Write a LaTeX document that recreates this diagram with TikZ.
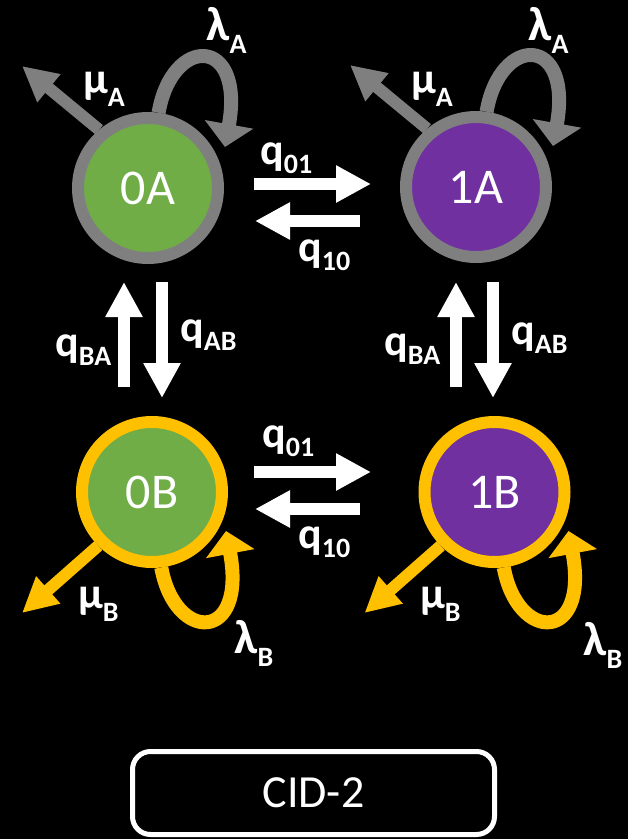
\documentclass[tikz,border=0pt]{standalone}
\usepackage{fontspec}
\setmainfont{Carlito}
\usetikzlibrary{arrows.meta}
\definecolor{cgreen}{HTML}{70AD47}
\definecolor{cpurple}{HTML}{7030A0}
\definecolor{cgray}{HTML}{7F7F7F}
\definecolor{cyellow}{HTML}{FFC000}
\newcommand{\lsub}[2][13]{\raisebox{-#1pt}{\fontsize{28}{28}\selectfont #2}}
\newcommand{\biglam}{{\fontsize{48}{48}\selectfont λ}}
\begin{document}
\begin{tikzpicture}[x=1pt,y=-1pt,
  state/.style={circle, minimum size=140pt, inner sep=0pt, line width=12pt, text=white, font=\fontsize{50}{50}\selectfont},
  stA/.style={state, draw=cgray},
  stB/.style={state, draw=cyellow},
  blockarrow/.style={draw=white, line width=12pt, -{Triangle[width=35pt,length=35pt]}},
  muA/.style={draw=cgray, line width=12pt, -{Triangle[width=34pt,length=35pt]}},
  muB/.style={draw=cyellow, line width=12pt, -{Triangle[width=34pt,length=35pt]}},
  loopA/.style={draw=cgray, line width=14pt, -{Triangle[width=48pt,length=23pt]}},
  loopB/.style={draw=cyellow, line width=14pt, -{Triangle[width=48pt,length=23pt]}},
  lab/.style={text=white, font=\bfseries\fontsize{44}{44}\selectfont, inner sep=0pt, anchor=base west},
  cidbox/.style={draw=white, line width=5pt, rounded corners=18pt, minimum width=362pt, minimum height=83pt, inner sep=0pt, text=white, font=\fontsize{46}{46}\selectfont}
]
\fill[black] (0,0) rectangle (628,839);
\useasboundingbox (0,0) rectangle (628,839);

% states
\node[stA, fill=cgreen]  (0A) at (148,188) {0A};
\node[stA, fill=cpurple] (1A) at (476,187) {1A};
\node[stB, fill=cgreen]  (0B) at (152,492) {0B};
\node[stB, fill=cpurple] (1B) at (494.5,492) {1B};

% free ends of the block arrows
\coordinate (r1s) at (254,184);  \coordinate (r1e) at (371,184);
\coordinate (l1s) at (360,221);  \coordinate (l1e) at (255,221);
\coordinate (r2s) at (254,472);  \coordinate (r2e) at (371,472);
\coordinate (l2s) at (360,509);  \coordinate (l2e) at (255,509);
\coordinate (u1s) at (124,387);  \coordinate (u1e) at (124,282);
\coordinate (d1s) at (162,282);  \coordinate (d1e) at (162,398);
\coordinate (u2s) at (456,387);  \coordinate (u2e) at (456,282);
\coordinate (d2s) at (493,282);  \coordinate (d2e) at (493,398);

\draw[blockarrow] (r1s) -- (r1e);
\draw[blockarrow] (l1s) -- (l1e);
\draw[blockarrow] (r2s) -- (r2e);
\draw[blockarrow] (l2s) -- (l2e);
\draw[blockarrow] (u1s) -- (u1e);
\draw[blockarrow] (d1s) -- (d1e);
\draw[blockarrow] (u2s) -- (u2e);
\draw[blockarrow] (d2s) -- (d2e);

% death arrows
\coordinate (m0A) at ([shift={(-126,-122)}]0A.center);
\coordinate (m1A) at ([shift={(-126,-122)}]1A.center);
\coordinate (m0B) at ([shift={(-130,121)}]0B.center);
\coordinate (m1B) at ([shift={(-130,121)}]1B.center);
\draw[muA] (0A.130) -- (m0A);
\draw[muA] (1A.130) -- (m1A);
\draw[muB] (0B.225) -- (m0B);
\draw[muB] (1B.225) -- (m1B);

% birth loops
\draw[loopA] (0A.82) .. controls ([shift={(24,-153)}]0A.center) and ([shift={(97,-153)}]0A.center) .. ([shift={(77,-41)}]0A.center);
\draw[loopA] (1A.82) .. controls ([shift={(24,-153)}]1A.center) and ([shift={(97,-153)}]1A.center) .. ([shift={(77,-41)}]1A.center);
\draw[loopB] (0B.-83) .. controls ([shift={(23,151)}]0B.center) and ([shift={(95,151)}]0B.center) .. ([shift={(74,39)}]0B.center);
\draw[loopB] (1B.-83) .. controls ([shift={(23,151)}]1B.center) and ([shift={(95,151)}]1B.center) .. ([shift={(74,39)}]1B.center);

% labels
\node[lab] (lmu0A) at (83,93) {μ\lsub{A}};
\node[lab] (lmu1A) at (411,93) {μ\lsub{A}};
\node[lab] (lla0A) at (206,40) {\biglam\lsub{A}};
\node[lab] (lla1A) at (528,40) {\biglam\lsub{A}};
\node[lab] (lmu0B) at (78,608) {μ\lsub{B}};
\node[lab] (lmu1B) at (420,608) {μ\lsub{B}};
\node[lab] (lla0B) at (234,653) {\biglam\lsub{B}};
\node[lab] (lla1B) at (583,655) {\biglam\lsub{B}};
\node[lab] (q01a) at (260,164) {q\lsub[9]{01}};
\node[lab] (q10a) at (298,261) {q\lsub[9]{10}};
\node[lab] (q01b) at (262,447) {q\lsub[9]{01}};
\node[lab] (q10b) at (298,548) {q\lsub[9]{10}};
\node[lab] (qBAl) at (55,356) {q\lsub[9]{BA}};
\node[lab] (qABl) at (180,341) {q\lsub[9]{AB}};
\node[lab] (qBAr) at (384,355) {q\lsub[9]{BA}};
\node[lab] (qABr) at (511,344) {q\lsub[9]{AB}};

% title box
\node[cidbox] (cid) at (313.5,793) {CID-2};
\end{tikzpicture}
\end{document}
